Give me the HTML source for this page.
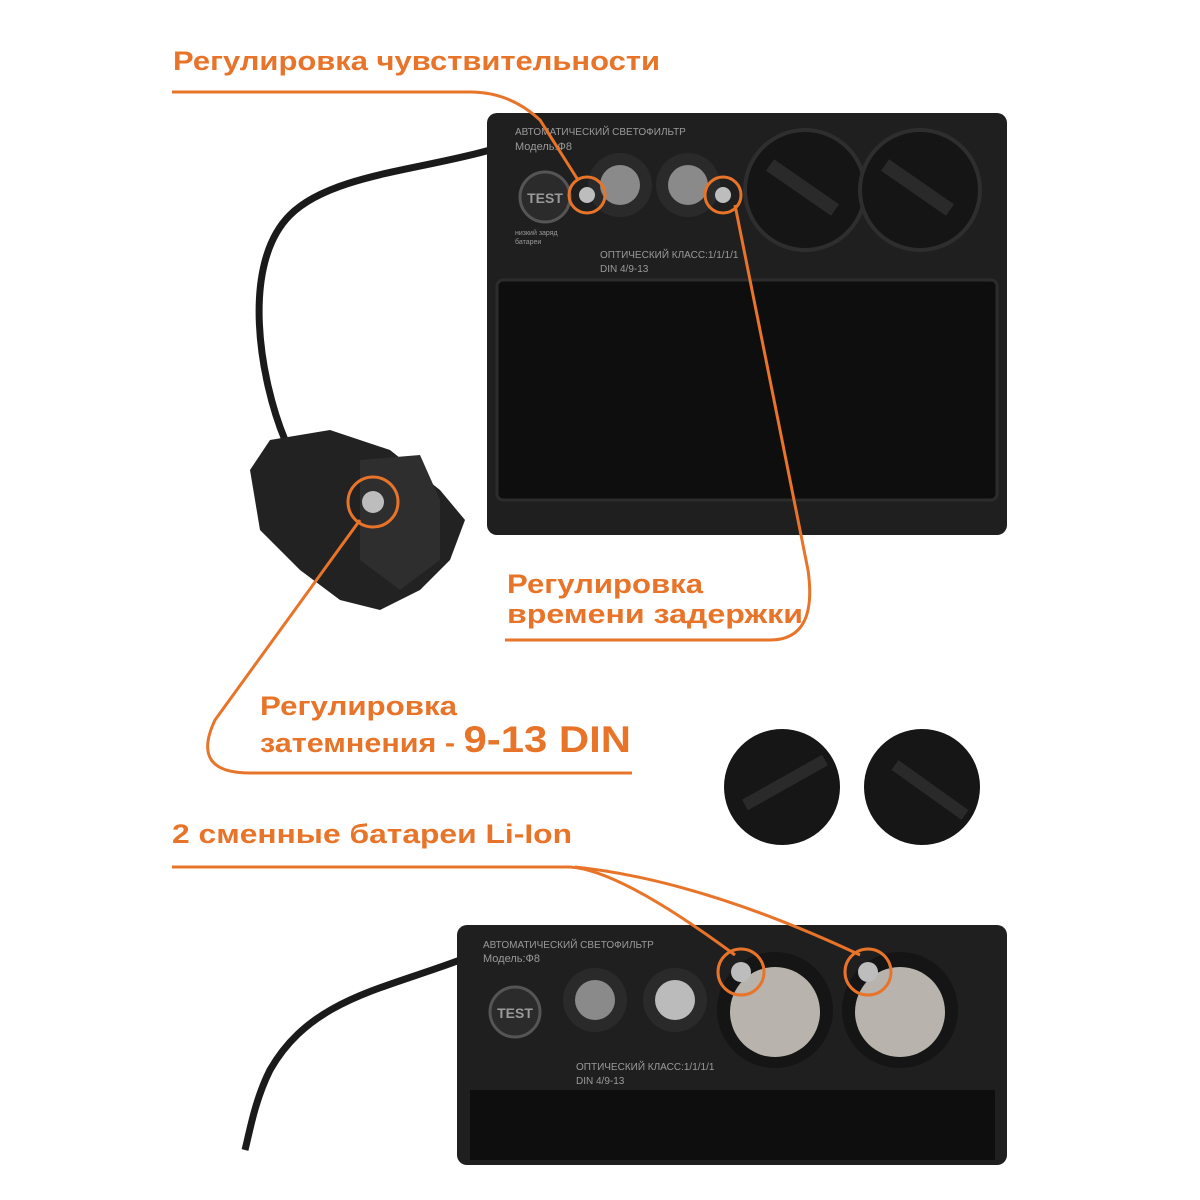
<!DOCTYPE html>
<html><head><meta charset="utf-8"><style>
html,body{margin:0;padding:0;background:#fff;}
svg{display:block}
.o{font-family:"Liberation Sans",sans-serif;font-weight:bold;fill:#e8742a;}
.s{font-family:"Liberation Sans",sans-serif;fill:#9a9a9a;}
</style></head><body>
<svg width="1200" height="1200" viewBox="0 0 1200 1200" xmlns="http://www.w3.org/2000/svg">
<rect width="1200" height="1200" fill="#fff"/>
<path d="M490 150 C420 170 330 175 290 215 C240 265 260 380 285 440" stroke="#1a1a1a" stroke-width="7" fill="none"/>
<rect x="487" y="113" width="520" height="422" rx="10" fill="#1f1f1f"/>
<rect x="497" y="280" width="500" height="220" rx="6" fill="#0e0e0e" stroke="#2c2c2c" stroke-width="3"/>
<circle cx="545" cy="197" r="25" fill="#2b2b2b" stroke="#555" stroke-width="3"/>
<text x="545" y="203" class="s" font-size="14" text-anchor="middle" fill="#ccc" font-weight="bold">TEST</text>
<text x="515" y="135" class="s" font-size="10">АВТОМАТИЧЕСКИЙ СВЕТОФИЛЬТР</text>
<text x="515" y="150" class="s" font-size="11">Модель:Ф8</text>
<text x="600" y="258" class="s" font-size="10">ОПТИЧЕСКИЙ КЛАСС:1/1/1/1</text>
<text x="600" y="272" class="s" font-size="10">DIN 4/9-13</text>
<text x="515" y="235" class="s" font-size="7">низкий заряд</text>
<text x="515" y="244" class="s" font-size="7">батареи</text>
<circle cx="620" cy="185" r="32" fill="#2a2a2a"/>
<circle cx="620" cy="185" r="20" fill="#8a8a8a"/>
<circle cx="688" cy="185" r="32" fill="#2a2a2a"/>
<circle cx="688" cy="185" r="20" fill="#8a8a8a"/>
<circle cx="805" cy="190" r="60" fill="#151515" stroke="#2e2e2e" stroke-width="4"/>
<path d="M770 165 L835 210" stroke="#2a2a2a" stroke-width="14"/>
<circle cx="920" cy="190" r="60" fill="#151515" stroke="#2e2e2e" stroke-width="4"/>
<path d="M885 165 L950 210" stroke="#2a2a2a" stroke-width="14"/>
<path d="M250 470 L270 440 L330 430 L390 450 L440 490 L465 520 L450 560 L420 590 L380 610 L340 600 L300 570 L260 530 Z" fill="#222"/>
<path d="M360 460 L420 455 L440 500 L440 560 L400 590 L360 560 Z" fill="#2e2e2e"/>
<circle cx="782" cy="787" r="58" fill="#161616"/>
<path d="M745 805 L825 760" stroke="#2a2a2a" stroke-width="12"/>
<circle cx="922" cy="787" r="58" fill="#161616"/>
<path d="M895 765 L965 815" stroke="#2a2a2a" stroke-width="12"/>
<path d="M460 960 C380 990 310 1000 270 1070 C255 1100 250 1130 245 1150" stroke="#1a1a1a" stroke-width="7" fill="none"/>
<rect x="457" y="925" width="550" height="240" rx="10" fill="#1f1f1f"/>
<rect x="470" y="1090" width="525" height="70" fill="#0e0e0e"/>
<circle cx="515" cy="1012" r="25" fill="#2b2b2b" stroke="#555" stroke-width="3"/>
<text x="515" y="1018" class="s" font-size="14" text-anchor="middle" fill="#ccc" font-weight="bold">TEST</text>
<text x="483" y="948" class="s" font-size="10">АВТОМАТИЧЕСКИЙ СВЕТОФИЛЬТР</text>
<text x="483" y="962" class="s" font-size="11">Модель:Ф8</text>
<text x="576" y="1070" class="s" font-size="10">ОПТИЧЕСКИЙ КЛАСС:1/1/1/1</text>
<text x="576" y="1084" class="s" font-size="10">DIN 4/9-13</text>
<circle cx="595" cy="1000" r="32" fill="#2a2a2a"/><circle cx="595" cy="1000" r="20" fill="#8a8a8a"/>
<circle cx="675" cy="1000" r="32" fill="#2a2a2a"/><circle cx="675" cy="1000" r="20" fill="#bbb"/>
<circle cx="775" cy="1010" r="58" fill="#151515"/><circle cx="775" cy="1012" r="45" fill="#b8b4ad"/>
<circle cx="900" cy="1010" r="58" fill="#151515"/><circle cx="900" cy="1012" r="45" fill="#b8b4ad"/>
<g stroke="#e8742a" stroke-width="3" fill="none">
<path d="M172 92 L470 92 Q510 92 540 120 L578 180"/>
<circle cx="587" cy="195" r="18"/>
<path d="M735 205 L808 570 Q818 640 770 640 L505 640"/>
<circle cx="723" cy="195" r="18"/>
<path d="M360 520 L215 720 Q190 773 250 773 L632 773"/>
<circle cx="373" cy="502" r="25"/>
<path d="M172 867 L570 867 Q620 870 735 955"/>
<path d="M575 867 Q700 880 860 955"/>
<circle cx="741" cy="972" r="23"/>
<circle cx="868" cy="972" r="23"/>
</g>
<g fill="#bdbdbd">
<circle cx="587" cy="195" r="8"/><circle cx="723" cy="195" r="8"/>
<circle cx="373" cy="502" r="11"/><circle cx="741" cy="972" r="10"/><circle cx="868" cy="972" r="10"/>
</g>
<text x="173" y="70" class="o" font-size="27" textLength="487" lengthAdjust="spacingAndGlyphs">Регулировка чувствительности</text>
<text x="507" y="593" class="o" font-size="27" textLength="196" lengthAdjust="spacingAndGlyphs">Регулировка</text>
<text x="507" y="623" class="o" font-size="27" textLength="296" lengthAdjust="spacingAndGlyphs">времени задержки</text>
<text x="260" y="715" class="o" font-size="27" textLength="197" lengthAdjust="spacingAndGlyphs">Регулировка</text>
<text x="260" y="752" class="o" font-size="27" textLength="371" lengthAdjust="spacingAndGlyphs">затемнения - <tspan font-size="37">9-13 DIN</tspan></text>
<text x="172" y="843" class="o" font-size="27" textLength="400" lengthAdjust="spacingAndGlyphs">2 сменные батареи Li-Ion</text>
</svg>
</body></html>
